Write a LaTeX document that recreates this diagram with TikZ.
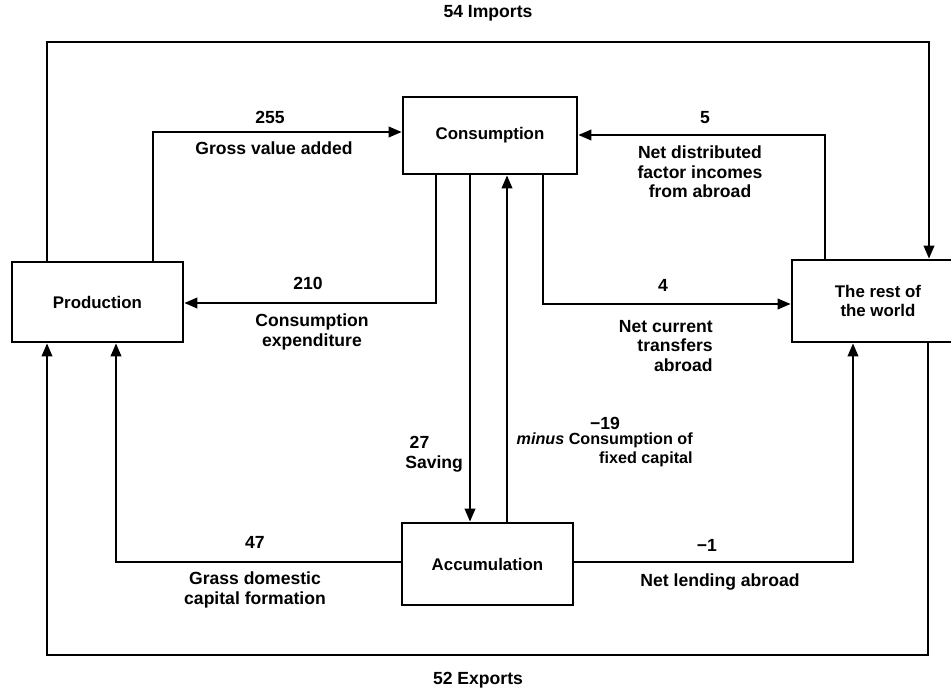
\documentclass[tikz,border=0pt]{standalone}
\usepackage{fontspec}
\setmainfont{Liberation Sans}
\usetikzlibrary{arrows.meta}
\begin{document}
\begin{tikzpicture}[x=0.02cm,y=-0.02cm]
\tikzstyle{sector}=[draw,line width=1.5pt,inner sep=0pt,align=center,font=\bfseries\fontsize{9.6}{11}\selectfont]
\tikzstyle{flow}=[line width=1.3pt,-{Triangle[width=6pt,length=7.5pt]}]
\tikzstyle{lbl}=[inner sep=0pt,font=\bfseries\fontsize{10}{11.2}\selectfont]
\useasboundingbox (0,0) rectangle (951,689);
% sectors
\node [sector,minimum width=3.42cm,minimum height=1.6cm] (prod) at (97.5,302) {Production};
\node [sector,minimum width=3.48cm,minimum height=1.54cm] (cons) at (490,135.5) {Consumption};
\node [sector,minimum width=3.42cm,minimum height=1.64cm] (acc) at (487.5,564) {Accumulation};
\node [sector,minimum width=3.44cm,minimum height=1.64cm] (row) at (878,301) {The rest of\\the world};
% bends
\coordinate (impL) at (47,42);
\coordinate (impR) at (929,42);
\coordinate (gva) at (153,132);
\coordinate (ce) at (436,303);
\coordinate (sav) at (470,0);
\coordinate (cfc) at (507,0);
\coordinate (nct) at (543,304);
\coordinate (ndf) at (825,135);
\coordinate (expL) at (47,655);
\coordinate (expR) at (928,655);
\coordinate (gdc) at (116,562);
\coordinate (nla) at (853,562);
% flows
\draw [flow] (prod.north -| impL) -- (impL) -- (impR) -- (row.north -| impR);
\draw [flow] (prod.north -| gva) |- (cons.west |- gva);
\draw [flow] (cons.south -| ce) |- (prod.east |- ce);
\draw [flow] (cons.south -| sav) -- (acc.north -| sav);
\draw [flow] (acc.north -| cfc) -- (cons.south -| cfc);
\draw [flow] (cons.south -| nct) |- (row.west |- nct);
\draw [flow] (row.north -| ndf) |- (cons.east |- ndf);
\draw [flow] (row.south -| expR) -- (expR) -- (expL) -- (prod.south -| expL);
\draw [flow] (acc.west |- gdc) -| (prod.south -| gdc);
\draw [flow] (acc.east |- nla) -| (row.south -| nla);
% labels
\node [lbl] (imp) at (488,13) {54 Imports};
\node [lbl] (gvaN) at (270,117) {255};
\node [lbl] (gvaT) at (274,148) {Gross value added};
\node [lbl] (ndfN) at (705,118) {5};
\node [lbl,align=center] (ndfT) at (700,172) {Net distributed\\factor incomes\\from abroad};
\node [lbl] (ceN) at (308,283) {210};
\node [lbl,align=center] (ceT) at (312,332) {Consumption\\expenditure};
\node [lbl] (nctN) at (663,285) {4};
\node [lbl,align=right,anchor=east] (nctT) at (713,346) {Net current\\transfers\\abroad};
\node [lbl,align=left,anchor=west] (savT) at (405,454) {\hspace*{2.5pt}27\\Saving};
\node [lbl] (cfcN) at (605,423) {−19};
\node [lbl,align=right,anchor=east,font=\bfseries\fontsize{9.2}{10.6}\selectfont] (cfcT) at (693,450) {{\itshape minus} Consumption of\\fixed capital};
\node [lbl] (gdcN) at (255,542) {47};
\node [lbl,align=center] (gdcT) at (255,590) {Grass domestic\\capital formation};
\node [lbl] (nlaN) at (707,545) {−1};
\node [lbl] (nlaT) at (720,582) {Net lending abroad};
\node [lbl] (exp) at (478,680) {52 Exports};
\end{tikzpicture}
\end{document}
